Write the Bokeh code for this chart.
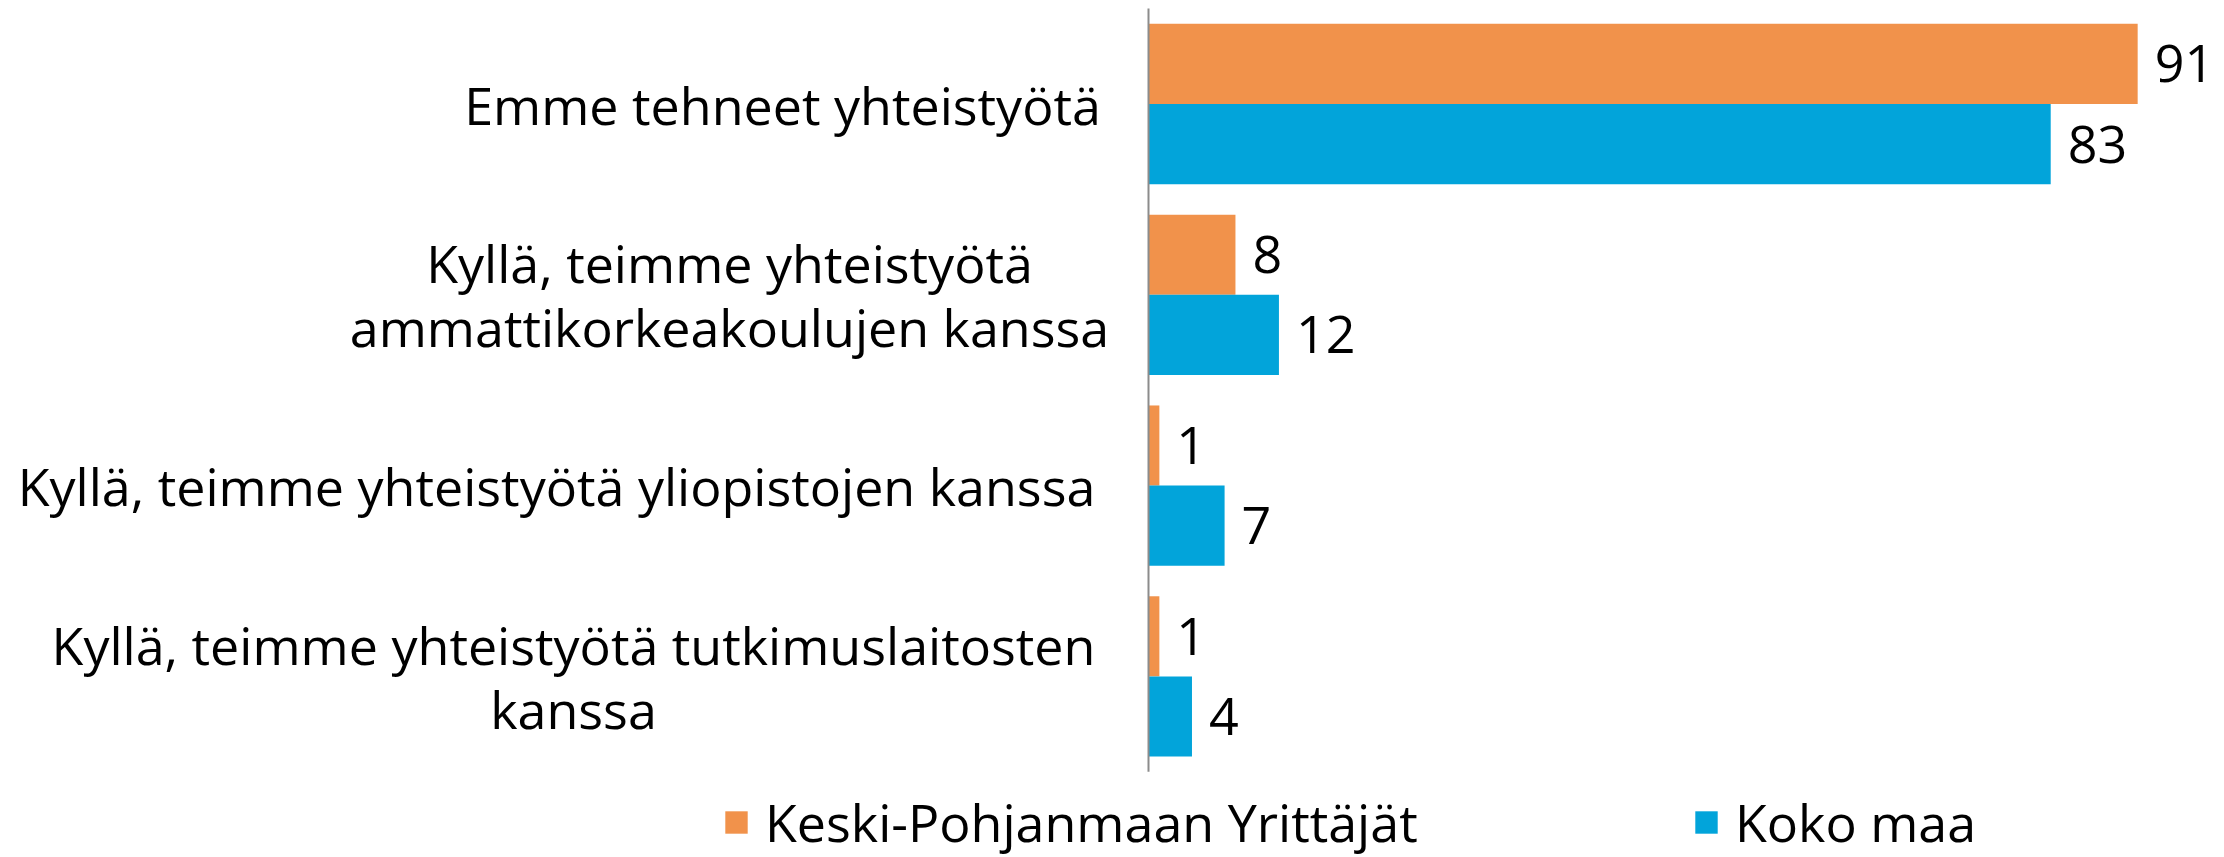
from bokeh.plotting import figure
from bokeh.models import Range1d, ColumnDataSource, Legend, LegendItem
from bokeh.core.properties import value
from bokeh.embed import file_html
from bokeh.resources import INLINE

# ---- data ----
categories = [
    "Emme tehneet yhteistyötä",
    "Kyllä, teimme yhteistyötä\nammattikorkeakoulujen kanssa",
    "Kyllä, teimme yhteistyötä yliopistojen kanssa",
    "Kyllä, teimme yhteistyötä tutkimuslaitosten\nkanssa",
]
keski_pohjanmaa = [91, 8, 1, 1]
koko_maa = [83, 12, 7, 4]
series_names = ["Keski-Pohjanmaan Yrittäjät", "Koko maa"]

# ---- layout / style ----
FONT = "Open Sans"
FS = "52px"
ORANGE = "#F1924B"
BLUE = "#02A4DA"
W, H = 2224, 857
AXIS_PX = 1148          # pixel position of the value axis (x = 0)
UNIT_PX = 10.87         # pixels per percentage point
ROW_PX = 190.8          # pixels per category row
TOP_PX = 103.5          # centre of first row from top
BAR_H = 0.42
OFF = 0.21
label_offsets = [-366, -419, -592, -575]   # label centre, px from the axis

x_start = -AXIS_PX / UNIT_PX
x_end = (W - AXIS_PX) / UNIT_PX
y_top = -TOP_PX / ROW_PX
y_bottom = y_top + H / ROW_PX

idx = list(range(len(categories)))
src = ColumnDataSource(dict(
    cat=categories,
    y1=[i - OFF for i in idx],
    y2=[i + OFF for i in idx],
    ymid=idx,
    v1=keski_pohjanmaa,
    v2=koko_maa,
    t1=[str(v) for v in keski_pohjanmaa],
    t2=[str(v) for v in koko_maa],
    xoff=label_offsets,
))

p = figure(width=W, height=H, output_backend="svg", toolbar_location=None,
           x_range=Range1d(x_start, x_end), y_range=Range1d(y_bottom, y_top),
           min_border=0, min_border_left=0, min_border_right=0,
           min_border_top=0, min_border_bottom=0)
p.axis.visible = False
p.grid.visible = False
p.outline_line_color = None
p.background_fill_color = "white"

r1 = p.hbar(y="y1", left=0, right="v1", height=BAR_H, source=src,
            fill_color=ORANGE, line_color=None)
r2 = p.hbar(y="y2", left=0, right="v2", height=BAR_H, source=src,
            fill_color=BLUE, line_color=None)

# value axis line
p.segment(x0=0, x1=0, y0=-0.5, y1=len(categories) - 0.5,
          line_color="#8C8C8C", line_width=2)

# value labels
p.text(x="v1", y="y1", text="t1", source=src, x_offset=17,
       text_font=value(FONT), text_font_size=FS, text_color="black",
       text_baseline="middle", text_align="left")
p.text(x="v2", y="y2", text="t2", source=src, x_offset=17,
       text_font=value(FONT), text_font_size=FS, text_color="black",
       text_baseline="middle", text_align="left")

# category labels (centred lines)
p.text(x=0, y="ymid", text="cat", source=src, x_offset="xoff",
       text_font=value(FONT), text_font_size=FS, text_color="black",
       text_baseline="middle", text_align="center", text_line_height=0.9)

for r, name, xloc in [(r1, series_names[0], 722), (r2, series_names[1], 1692)]:
    lg = Legend(items=[LegendItem(label=name, renderers=[r])],
                location=(xloc, 0), orientation="horizontal",
                glyph_width=28, glyph_height=28, label_standoff=15,
                padding=0, margin=0, border_line_color=None,
                background_fill_alpha=0,
                label_text_font=FONT, label_text_font_size=FS,
                label_text_color="black")
    p.add_layout(lg, "center")

open("out.html", "w").write(file_html(p, INLINE))
